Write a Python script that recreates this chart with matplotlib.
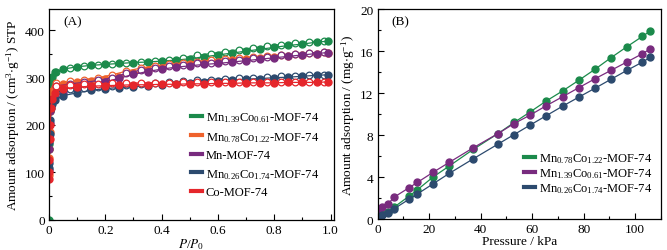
import matplotlib
matplotlib.use("Agg")
import matplotlib.pyplot as plt
from matplotlib.lines import Line2D
from matplotlib.ticker import MultipleLocator

plt.rcParams["font.family"] = ["Liberation Serif", "DejaVu Serif"]
plt.rcParams["mathtext.fontset"] = "stix"
plt.rcParams["font.size"] = 9.5

# ---- panel A: N2 isotherms ----
p_ads = [0, 0.0005, 0.001, 0.002, 0.004, 0.007, 0.01, 0.02, 0.05, 0.10, 0.15,
         0.20, 0.25, 0.30, 0.35, 0.40, 0.45, 0.50, 0.55, 0.60, 0.65, 0.70,
         0.75, 0.80, 0.85, 0.90, 0.95, 0.99]
p_des = [0.025, 0.075, 0.125, 0.175, 0.225, 0.275, 0.325, 0.375, 0.425, 0.475,
         0.525, 0.575, 0.625, 0.675, 0.725, 0.775, 0.825, 0.875, 0.925, 0.975]

ads_mn139 = [0, 150, 160, 230, 285, 296, 302, 312, 318, 323, 326, 328, 330, 332,
             333, 335, 337, 340, 344, 348, 352, 356, 360, 364, 368, 371, 375, 377]
ads_mn078 = [95, 130, 150, 185, 230, 262, 272, 280, 286, 290, 293, 297, 302, 309,
             316, 321, 325, 328, 331, 334, 337, 339, 342, 344, 346, 348, 351, 353]
ads_mn = [105, 150, 180, 205, 230, 245, 252, 260, 268, 276, 283, 291, 299, 307,
          313, 318, 322, 325, 328, 330, 333, 336, 339, 342, 345, 348, 351, 353]
ads_mn026 = [110, 120, 165, 180, 210, 235, 245, 252, 262, 268, 273, 277, 279, 281,
             283, 285, 287, 289, 291, 293, 295, 297, 298, 300, 301, 303, 305, 306]
ads_co = [85, 100, 125, 170, 200, 235, 255, 268, 277, 280, 282, 283, 284, 285,
          285, 286, 286, 287, 287, 288, 288, 289, 289, 289, 290, 290, 290, 291]

des_mn139 = [312, 320, 325, 327, 329, 331, 333, 336, 338, 342, 347, 351, 355, 359,
             363, 367, 370, 373, 376, 378]
des_mn078 = [288, 292, 296, 300, 306, 314, 320, 325, 328, 331, 334, 337, 340, 342,
             344, 346, 348, 350, 352, 354]
des_mn = [282, 287, 290, 294, 300, 309, 316, 320, 324, 327, 330, 332, 335, 338,
          341, 344, 347, 350, 352, 354]
des_mn026 = [270, 276, 279, 281, 283, 284, 286, 288, 290, 292, 294, 296, 298, 299,
             300, 301, 303, 304, 305, 306]
des_co = [283, 285, 286, 287, 288, 288, 289, 289, 289, 290, 290, 290, 290, 290,
          291, 291, 291, 291, 291, 291]

labels_a = [r"Mn$\mathregular{_{1.39}}$Co$\mathregular{_{0.61}}$-MOF-74",
            r"Mn$\mathregular{_{0.78}}$Co$\mathregular{_{1.22}}$-MOF-74",
            "Mn-MOF-74",
            r"Mn$\mathregular{_{0.26}}$Co$\mathregular{_{1.74}}$-MOF-74",
            "Co-MOF-74"]

# ---- panel B: CO2 uptake ----
kpa_mn078 = [0.3, 0.7, 1.9, 3.9, 6.5, 12.3, 15.5, 21.5, 27.8, 37.2, 46.8, 53.0,
             59.2, 65.5, 71.8, 78.0, 84.3, 90.5, 96.7, 102.8, 105.8]
ads_b_mn078 = [0.1, 0.3, 0.5, 0.7, 1.15, 2.2, 2.8, 4.0, 5.05, 6.65, 8.15, 9.2,
               10.2, 11.25, 12.2, 13.2, 14.25, 15.35, 16.4, 17.4, 17.9]
kpa_mn139 = [0.3, 0.7, 1.9, 3.9, 6.5, 12.3, 15.5, 21.5, 27.8, 37.2, 46.8, 53.0,
             59.2, 65.5, 71.8, 78.0, 84.3, 90.5, 96.7, 102.8, 105.8]
ads_b_mn139 = [0.65, 0.9, 1.2, 1.4, 2.1, 3.0, 3.5, 4.45, 5.4, 6.8, 8.15, 9.1,
               9.9, 10.8, 11.65, 12.5, 13.35, 14.15, 14.95, 15.75, 16.2]
kpa_mn026 = [0.3, 0.7, 1.9, 3.9, 6.5, 12.3, 15.5, 21.5, 27.8, 37.2, 46.8, 53.0,
             59.2, 65.5, 71.8, 78.0, 84.3, 90.5, 96.7, 102.8, 105.8]
ads_b_mn026 = [0.1, 0.2, 0.4, 0.6, 1.0, 1.9, 2.4, 3.35, 4.35, 5.75, 7.15, 8.05,
               8.95, 9.85, 10.75, 11.6, 12.45, 13.3, 14.15, 14.95, 15.4]

labels_b = [r"Mn$\mathregular{_{0.78}}$Co$\mathregular{_{1.22}}$-MOF-74",
            r"Mn$\mathregular{_{1.39}}$Co$\mathregular{_{0.61}}$-MOF-74",
            r"Mn$\mathregular{_{0.26}}$Co$\mathregular{_{1.74}}$-MOF-74"]

green = "#1b8a4b"
orange = "#ef622c"
purple = "#782b7e"
navy = "#2c4a6e"
red = "#e5262b"


def style_axes(ax):
    ax.tick_params(which="both", direction="in", top=False, right=False)
    ax.tick_params(which="major", length=4, width=0.8, pad=3)
    ax.tick_params(which="minor", length=2, width=0.8)
    for s in ax.spines.values():
        s.set_linewidth(0.9)


fig = plt.figure(figsize=(6.67, 2.51), dpi=100)
ax1 = fig.add_axes([0.0735, 0.121, 0.4272, 0.839])
ax2 = fig.add_axes([0.566, 0.123, 0.425, 0.837])

series_a = [(ads_mn139, des_mn139, green), (ads_mn078, des_mn078, orange),
            (ads_mn, des_mn, purple), (ads_mn026, des_mn026, navy),
            (ads_co, des_co, red)]
for ads, des, c in series_a:
    ax1.plot(p_des, des, "-o", color=c, lw=0.9, ms=4.8, mfc="white", mec=c, mew=0.9)
    ax1.plot(p_ads, ads, "-o", color=c, lw=0.9, ms=5.0, mec=c)

ax1.set_xlim(0, 1.012)
ax1.set_ylim(0, 445)
ax1.xaxis.set_major_locator(MultipleLocator(0.2))
ax1.xaxis.set_minor_locator(MultipleLocator(0.1))
ax1.yaxis.set_major_locator(MultipleLocator(100))
ax1.yaxis.set_minor_locator(MultipleLocator(50))
ax1.xaxis.set_major_formatter(plt.FuncFormatter(lambda v, _: "0" if abs(v) < 1e-9 else f"{v:.1f}"))
ax1.set_xlabel(r"$\it{P}$/$\it{P}$$\mathregular{_0}$", labelpad=0)
ax1.set_ylabel(r"Amount adsorption / (cm$\mathregular{^3}$$\cdot$g$\mathregular{^{-1}}$) STP",
               labelpad=2)
style_axes(ax1)
ax1.text(0.05, 0.94, "(A)", transform=ax1.transAxes, ha="left", va="center")

handles_a = [Line2D([], [], color=c, lw=3) for _, _, c in series_a]
ax1.legend(handles_a, labels_a, loc="center left", bbox_to_anchor=(0.475, 0.31),
           frameon=False, handlelength=0.9, handletextpad=0.3, labelspacing=0.45,
           borderpad=0, fontsize=9)

series_b = [(kpa_mn078, ads_b_mn078, green), (kpa_mn139, ads_b_mn139, purple),
            (kpa_mn026, ads_b_mn026, navy)]
for x, y, c in series_b:
    ax2.plot(x, y, "-o", color=c, lw=0.9, ms=5.0, mec=c)

ax2.set_xlim(0, 110)
ax2.set_ylim(0, 20)
ax2.xaxis.set_major_locator(MultipleLocator(20))
ax2.xaxis.set_minor_locator(MultipleLocator(10))
ax2.yaxis.set_major_locator(MultipleLocator(4))
ax2.yaxis.set_minor_locator(MultipleLocator(2))
ax2.set_xlabel("Pressure / kPa", labelpad=0)
ax2.set_ylabel(r"Amount adsorption / (mg$\cdot$g$\mathregular{^{-1}}$)", labelpad=2)
style_axes(ax2)
ax2.text(0.05, 0.94, "(B)", transform=ax2.transAxes, ha="left", va="center")

handles_b = [Line2D([], [], color=c, lw=3) for _, _, c in series_b]
ax2.legend(handles_b, labels_b, loc="center left", bbox_to_anchor=(0.495, 0.22),
           frameon=False, handlelength=0.9, handletextpad=0.3, labelspacing=0.1,
           borderpad=0, fontsize=9)

fig.savefig("out.png", dpi=100)
